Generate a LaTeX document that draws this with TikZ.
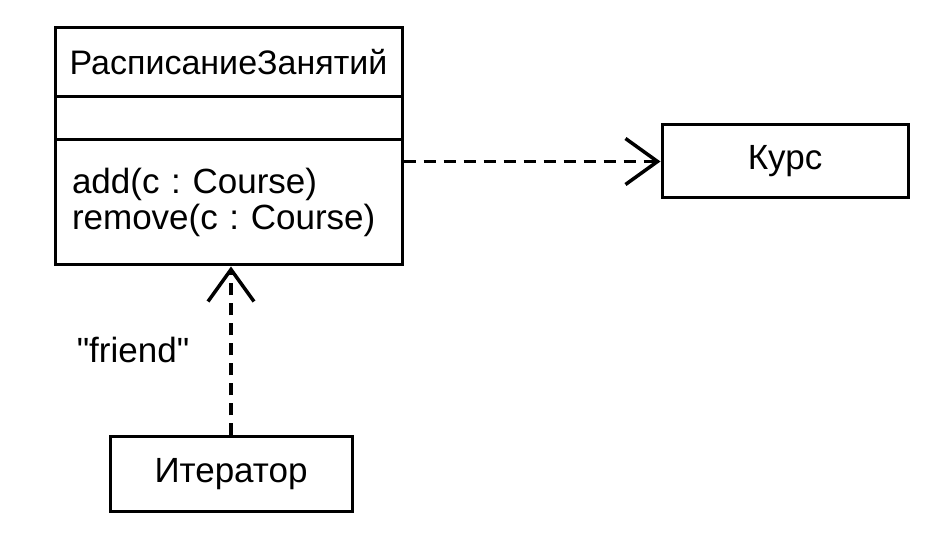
\documentclass[tikz,border=0pt]{standalone}
\usepackage{fontspec}
\setmainfont{Liberation Sans}
\newfontfamily\plainfont{Liberation Sans}
\usetikzlibrary{arrows.meta}
\tikzset{
	box/.style = {draw, line width = 3pt, inner sep = 0pt, font = \fontsize{35}{36}\selectfont},
	dep/.style = {line width = 3.5pt, dash pattern = on 12pt off 8pt, -{Straight Barb[length = 32pt, width = 46pt, line width = 3.5pt]}}
}
\frenchspacing
\begin{document}
\begin{tikzpicture}[x = 1pt, y = -1pt]
	\useasboundingbox (0,0) rectangle (938,534);
	% class with three compartments
	\node [box, minimum width = 347pt, minimum height = 69pt, font = \fontsize{34}{36}\selectfont] (title) at (228.5,62.5) {РасписаниеЗанятий};
	\node [box, minimum width = 347pt, minimum height = 43pt] (attrs) at (228.5,118.5) {};
	\node [box, minimum width = 347pt, minimum height = 125pt, inner xsep = 17pt, text width = 313pt, align = left] (ops) at (228.5,202.5) {add(c : Course)\\remove(c : Course)};
	\node [box, minimum width = 246pt, minimum height = 73pt] (kurs) at (785,161.5) {Курс};
	\node [box, minimum width = 242pt, minimum height = 75pt] (iter) at (231,474.5) {Итератор};
	\draw [dep] (ops.east |- kurs.west) -- (kurs.west);
	\draw [dep] (iter.north) -- (iter.north |- ops.south);
	\node [font = \plainfont\fontsize{35}{36}\selectfont] (friend) at (133,350) {"friend"};
\end{tikzpicture}
\end{document}
